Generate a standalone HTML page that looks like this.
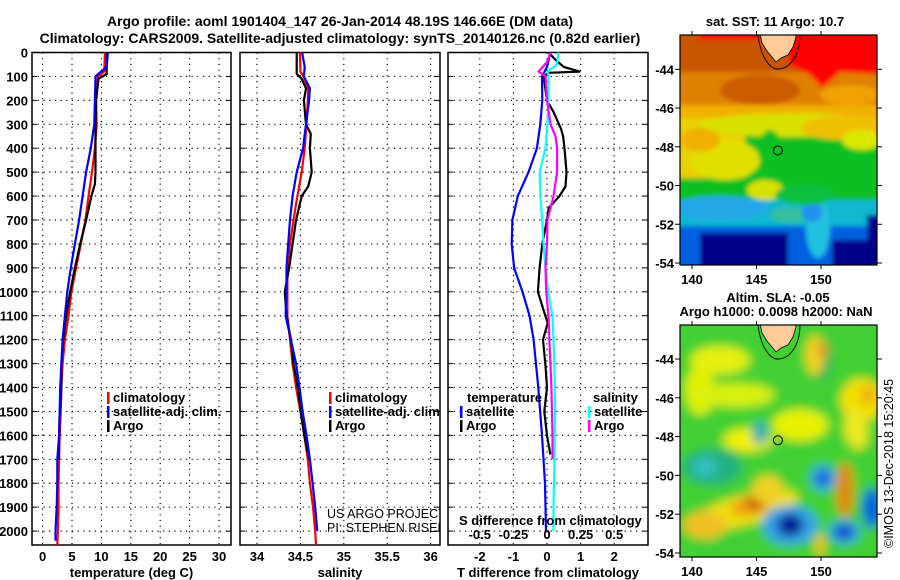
<!DOCTYPE html>
<html><head><meta charset="utf-8">
<style>
body{margin:0;background:#fff;}
svg{display:block;font-family:"Liberation Sans",sans-serif;}
.t{font-weight:bold;font-size:14px;}
.k{font-weight:bold;font-size:13px;}
</style></head>
<body>
<svg id="fig" width="900" height="580" viewBox="0 0 900 580" xmlns="http://www.w3.org/2000/svg">
<defs>
<filter id="bl" x="-10%" y="-10%" width="120%" height="120%"><feGaussianBlur stdDeviation="2.5"/></filter>
<filter id="bl2" x="-20%" y="-20%" width="140%" height="140%"><feGaussianBlur stdDeviation="5"/></filter>
<clipPath id="c1"><rect x="680" y="35" width="197" height="230"/></clipPath>
<clipPath id="c2"><rect x="680" y="325" width="197" height="232"/></clipPath>
<clipPath id="cp2"><rect x="240" y="52" width="200" height="493"/></clipPath>
</defs>
<text class="t" x="340" y="26" text-anchor="middle">Argo profile: aoml 1901404_147 26-Jan-2014 48.19S 146.66E (DM data)</text>
<text class="t" x="340" y="43" text-anchor="middle">Climatology: CARS2009. Satellite-adjusted climatology: synTS_20140126.nc (0.82d earlier)</text>
<g id="panels"></g>
<g id="maps"></g>
</svg>
<script>
const NS='http://www.w3.org/2000/svg';
const svg=document.getElementById('fig');
const panels=document.getElementById('panels');
const maps=document.getElementById('maps');
function mk(tag,attrs,parent){const e=document.createElementNS(NS,tag);for(const k in attrs)e.setAttribute(k,attrs[k]);(parent||svg).appendChild(e);return e;}

// ---------- data ----------
const depthTicks=[0,100,200,300,400,500,600,700,800,900,1000,1100,1200,1300,1400,1500,1600,1700,1800,1900,2000];
const tempTicks=[0,5,10,15,20,25,30];
const salTicks=[34,34.5,35,35.5,36];
const salTickLabels=['34','34.5','35','35.5','36'];
const tdiffTicks=[-2,-1,0,1,2];
const sdiffTicks=[-0.5,-0.25,0,0.25,0.5];
const sdiffTickLabels=['-0.5','-0.25','0','0.25','0.5'];

const tempClimDepth=[0,80,100,200,300,400,500,600,700,800,900,1000,1100,1200,1300,1400,1500,1600,1700,1800,1900,2000,2058];
const tempClim=[10.6,10.5,9.4,9.1,9.2,8.9,8.4,7.8,7.3,6.5,5.7,4.9,4.4,3.8,3.4,3.2,3.1,2.9,2.8,2.7,2.7,2.6,2.5];
const tempSatDepth=[0,60,100,200,300,400,500,600,700,800,900,1000,1100,1200,1300,1400,1500,1600,1700,1800,1900,2000,2040];
const tempSat=[11.1,10.9,9.0,8.9,8.8,8.2,7.4,6.8,6.2,5.5,4.8,4.2,3.8,3.4,3.2,3.0,2.9,2.8,2.5,2.5,2.4,2.2,2.2];
const tempArgoDepth=[0,90,110,200,300,400,500,550,600,700,800,900,1000,1100,1200,1300,1400,1500,1600,1700];
const tempArgo=[10.9,10.9,9.5,9.1,9.0,9.0,9.0,8.9,8.3,7.4,6.4,5.5,4.7,4.0,3.5,3.2,3.2,2.9,2.8,2.7];

const salClimDepth=[0,80,100,150,200,300,400,500,600,700,800,900,1000,1100,1200,1300,1400,1500,1600,1700,1800,1900,2000,2058];
const salClim=[34.495,34.5,34.535,34.59,34.585,34.57,34.55,34.515,34.465,34.42,34.38,34.35,34.35,34.35,34.38,34.41,34.45,34.5,34.545,34.585,34.61,34.645,34.67,34.68];
const salSatDepth=[0,60,100,150,200,300,400,500,600,700,800,900,1000,1100,1200,1300,1400,1500,1600,1700,1800,1900,2000];
const salSat=[34.52,34.55,34.54,34.61,34.6,34.565,34.53,34.457,34.41,34.38,34.36,34.34,34.34,34.33,34.39,34.45,34.49,34.525,34.57,34.61,34.64,34.67,34.695];
const salArgoDepth=[0,90,110,150,200,300,340,400,500,560,600,700,800,900,1000,1100,1200,1300,1400,1500,1600,1700];
const salArgo=[34.457,34.457,34.515,34.565,34.54,34.565,34.62,34.61,34.63,34.59,34.515,34.45,34.41,34.37,34.32,34.34,34.39,34.42,34.47,34.505,34.545,34.6];

const tdSatDepth=[0,60,100,200,300,400,500,600,700,800,900,1000,1100,1200,1400,1600,1800,2000];
const tdSat=[0.1,0.0,-0.15,-0.14,-0.2,-0.3,-0.55,-0.87,-1.03,-1.05,-0.98,-0.73,-0.52,-0.4,-0.26,-0.15,-0.06,-0.03];
const tdArgoDepth=[0,30,60,80,85,100,200,250,320,350,400,500,560,600,650,700,800,900,1000,1100,1130,1200,1300,1400,1500,1600,1680];
const tdArgo=[0.05,0.25,0.5,0.97,0.05,-0.1,0,0.2,0.42,0.48,0.52,0.58,0.55,0.37,0.05,0,-0.14,-0.22,-0.27,-0.05,0.02,-0.12,-0.05,0,-0.08,0,0.1];
const sdSatDepth=[0,50,80,100,200,300,400,500,600,700,800,900,1000,1100,1300,1500,1700,1900,2000];
const sdSat=[0.085,0.075,0.004,0.011,0.011,0.004,-0.011,-0.055,-0.048,-0.036,-0.026,-0.011,0.009,0.041,0.055,0.06,0.055,0.048,0.048];
const sdArgoDepth=[0,40,80,100,200,300,350,400,500,600,700,800,900,1000,1100,1200,1400,1600,1700];
const sdArgo=[0.026,0,-0.063,-0.011,0,0.026,0.063,0.075,0.075,0.048,0.004,0,-0.011,-0.006,0.011,0.018,0.033,0.041,0.041];

const latTicks=[-44,-46,-48,-50,-52,-54];
const lonTicks=[140,145,150];
const argoLon=146.66, argoLat=-48.19;

// ---------- axes ----------
const TOP=52.5, BOT=545, DPX=0.2393;
const yD=d=>TOP+d*DPX;
const xT=v=>42.6+v*5.88;
const xS=v=>257+(v-34)*86.8;
const xTD=v=>547+v*33.6;
const xSD=v=>547+v*134.4;

function panel(x0,x1,name,xticks,xlab,xfun,xlabels,showY){
  const g=mk('g',{},panels);
  depthTicks.forEach(d=>{const y=yD(d);
    const l=mk('line',{x1:x0,x2:x1,y1:y,y2:y,stroke:'#000','stroke-width':1.2,'stroke-dasharray':'1.2 4.5'},g);
    
    mk('line',{x1:x0,x2:x0+5,y1:y,y2:y,stroke:'#000'},g);mk('line',{x1:x1-5,x2:x1,y1:y,y2:y,stroke:'#000'},g);
    if(showY){const t=mk('text',{x:x0-4,y:y+5,'text-anchor':'end',class:'k'},g);t.textContent=d;
      }
  });
  xticks.forEach((v,i)=>{const x=xfun(v);
    const l=mk('line',{x1:x,x2:x,y1:TOP,y2:BOT,stroke:'#000','stroke-width':1.2,'stroke-dasharray':'1.2 4.5'},g);
    
    const t=mk('text',{x:x,y:561,'text-anchor':'middle',class:'k'},g);t.textContent=xlabels?xlabels[i]:v;
    
  });
  mk('rect',{x:x0,y:TOP,width:x1-x0,height:BOT-TOP,fill:'none',stroke:'#000','stroke-width':1.5},g);
  const t=mk('text',{x:(x0+x1)/2,y:577,'text-anchor':'middle',class:'k'},g);t.textContent=xlab;
  
  return g;
}
function series(g,depths,vals,fx,color,name,w){
  let d='';depths.forEach((dd,i)=>{d+=(i?'L':'M')+fx(vals[i]).toFixed(1)+','+yD(dd).toFixed(1);});
  const p=mk('path',{d:d,fill:'none',stroke:color,'stroke-width':w||2.2,'stroke-linejoin':'round'},g);
  
}
function legend(g,x,y,color,label,name){
  mk('rect',{x:x,y:y-10,width:2.5,height:12,fill:color},g);
  const t=mk('text',{x:x+6,y:y,class:'k'},g);t.textContent=label;
  
}

const g1=panel(32,231,'temperature-panel',tempTicks,'temperature (deg C)',xT,null,true);
series(g1,tempClimDepth,tempClim,xT,'#ff0000','temp-climatology-line');
series(g1,tempArgoDepth,tempArgo,xT,'#000000','temp-argo-line');
series(g1,tempSatDepth,tempSat,xT,'#0000ff','temp-satellite-line');
legend(g1,107,402,'#ff0000','climatology','legend-climatology');
legend(g1,107,416,'#0000ff','satellite-adj. clim.','legend-satellite');
legend(g1,107,430,'#000000','Argo','legend-argo');

const g2=panel(240,440,'salinity-panel',salTicks,'salinity',xS,salTickLabels,false);
const g2c=mk('g',{'clip-path':'url(#cp2)'},g2);
series(g2c,salClimDepth,salClim,xS,'#ff0000','sal-climatology-line');
series(g2c,salArgoDepth,salArgo,xS,'#000000','sal-argo-line');
series(g2c,salSatDepth,salSat,xS,'#0000ff','sal-satellite-line');
legend(g2c,329,402,'#ff0000','climatology','legend-climatology');
legend(g2c,329,416,'#0000ff','satellite-adj. clim.','legend-satellite');
legend(g2c,329,430,'#000000','Argo','legend-argo');
['US ARGO PROJECT','PI: STEPHEN RISER'].forEach((s,i)=>{const t=mk('text',{x:327,y:518+i*14,'font-size':'12.5px'},g2c);t.textContent=s;
  });

const g3=panel(448,648,'difference-panel',tdiffTicks,'T difference from climatology',xTD,null,false);
series(g3,tdSatDepth,tdSat,xTD,'#0000ff','tdiff-satellite-line');
series(g3,tdArgoDepth,tdArgo,xTD,'#000000','tdiff-argo-line');
series(g3,sdSatDepth,sdSat,xSD,'#00ffff','sdiff-satellite-line');
series(g3,sdArgoDepth,sdArgo,xSD,'#ff00ff','sdiff-argo-line');
{const t=mk('text',{x:467,y:402,class:'k'},g3);t.textContent='temperature';}
{const t=mk('text',{x:593,y:402,class:'k'},g3);t.textContent='salinity';}
legend(g3,460,416,'#0000ff','satellite','legend-t-satellite');
legend(g3,460,430,'#000000','Argo','legend-t-argo');
legend(g3,588,416,'#00ffff','satellite','legend-s-satellite');
legend(g3,588,430,'#ff00ff','Argo','legend-s-argo');
{const t=mk('text',{x:459,y:525,class:'k'},g3);t.textContent='S difference from climatology';}
sdiffTicks.forEach((v,i)=>{const t=mk('text',{x:xSD(v),y:539,'text-anchor':'middle',class:'k'},g3);t.textContent=sdiffTickLabels[i];
  });

// ---------- maps ----------
function mapFrame(top,bot,latA,latB,name,clip,drawFn,titleLines){
  const g=mk('g',{},maps);
  const lonX=l=>692+(l-140)*12.9;
  const latY=l=>latA+(l-(-44))*(latB-latA)/(-10);
  const inner=mk('g',{'clip-path':'url(#'+clip+')'},g);
  drawFn(inner,lonX,latY);
  const tx=lonX(146.2), ty=top;
  mk('path',{d:`M${tx-14},${ty} C${tx-12},${ty+18} ${tx-4},${ty+34} ${tx+6},${ty+34} C${tx+18},${ty+34} ${tx+28},${ty+20} ${tx+28},${ty}`,fill:'none',stroke:'#000','stroke-width':0.9},inner);
  mk('path',{d:`M${tx-12},${ty-2} L${tx-10},${ty+8} L${tx-5},${ty+16} L${tx},${ty+22} L${tx+4},${ty+27} L${tx+9},${ty+23} L${tx+16},${ty+20} L${tx+21},${ty+12} L${tx+24},${ty+2} L${tx+24},${ty-2}Z`,fill:'#ffcc99',stroke:'#000','stroke-width':0.8},inner);
  const c=mk('circle',{cx:lonX(argoLon),cy:latY(argoLat),r:4.5,fill:'none',stroke:'#000','stroke-width':1},g);
  
  mk('rect',{x:680,y:top,width:197,height:bot-top,fill:'none',stroke:'#000','stroke-width':1.2},g);
  latTicks.forEach(l=>{const y=latY(l);mk('line',{x1:680,x2:675,y1:y,y2:y,stroke:'#000'},g);mk('line',{x1:877,x2:882,y1:y,y2:y,stroke:'#000'},g);
    const t=mk('text',{x:674,y:y+5,'text-anchor':'end',class:'k'},g);t.textContent=l;});
  lonTicks.forEach(l=>{const x=lonX(l);mk('line',{x1:x,x2:x,y1:top,y2:top-4,stroke:'#000'},g);mk('line',{x1:x,x2:x,y1:bot,y2:bot+4,stroke:'#000'},g);
    const t=mk('text',{x:x,y:bot+19,'text-anchor':'middle',class:'k'},g);t.textContent=l;});
  titleLines.forEach((s,i)=>{const t=mk('text',{x:s[1],y:s[2],'text-anchor':'middle',class:'k'},g);t.textContent=s[0];});
}
mapFrame(35,265,69.3,263,'sst-map','c1',(g,X,Y)=>{
  const b=mk('g',{filter:'url(#bl)'},g);
  const R=(x,y,w,h,f)=>mk('rect',{x,y,width:w,height:h,fill:f},b);
  const E=(cx,cy,rx,ry,f)=>mk('ellipse',{cx,cy,rx,ry,fill:f},b);
  R(670,25,220,260,'#10c020');
  R(670,25,220,55,'#c85400');
  R(670,72,220,38,'#e08000');
  E(760,90,40,15,'#cc5c00');E(850,95,30,10,'#f0a000');
  R(670,105,220,20,'#f0b000');
  R(670,118,75,60,'#e8d000');E(790,125,90,12,'#d8e000');E(845,128,45,12,'#f0c000');
  E(725,160,35,20,'#e0e000');E(862,140,20,10,'#d8e800');E(700,140,20,12,'#f0b000');
  E(770,150,12,20,'#10c020');E(765,190,18,10,'#d8e000');
  R(700,30,80,10,'#ff0000');
  mk('path',{d:'M780,30 L890,30 L890,75 L840,72 L822,88 L810,75 L790,65 Z',fill:'#ff0000'},b);
  R(670,200,220,70,'#10b8d0');E(720,208,50,12,'#20a8e8');E(790,215,20,8,'#30c0a0');
  R(670,226,220,45,'#0060e0');
  R(700,233,88,40,'#000088');R(832,240,60,30,'#000088');R(867,215,25,30,'#000090');
  E(818,228,12,30,'#20c0e0');E(812,212,10,10,'#2090f0');
  E(805,195,30,10,'#10c040');
},[['sat. SST: 11 Argo: 10.7',775,26]]);
mapFrame(325,557,359,553,'sla-map','c2',(g,X,Y)=>{
  const b=mk('g',{filter:'url(#bl2)'},g);
  const R=(x,y,w,h,f)=>mk('rect',{x,y,width:w,height:h,fill:f},b);
  const E=(cx,cy,rx,ry,f,r)=>mk('ellipse',{cx,cy,rx,ry,fill:f,transform:`rotate(${r||0} ${cx} ${cy})`},b);
  R(670,315,220,250,'#40d030');
  E(720,360,30,14,'#e8f010');E(700,390,15,25,'#e0f000');E(862,400,22,22,'#f0e000');E(868,395,8,10,'#f0b010');
  E(748,440,25,12,'#f0f000');E(800,425,28,16,'#e8f000');E(735,395,40,12,'#d8f010');
  E(712,467,30,18,'#20b080');E(705,467,12,10,'#30c0c0');E(760,433,8,12,'#30b0b0');E(822,360,10,20,'#20b060');
  E(745,510,55,15,'#f0e010',-15);E(752,505,22,10,'#f0a010',-15);E(757,503,10,7,'#c05000');E(705,525,22,14,'#f0c020');
  E(768,490,16,15,'#f0d020');E(845,490,9,28,'#e08a10');E(856,430,12,20,'#e8e820',-10);
  E(790,525,28,20,'#30a0e8');E(790,525,13,11,'#001890');
  E(823,478,13,13,'#30a0e8');E(823,478,6,6,'#0040d0');
  E(844,532,16,12,'#30a0e8');E(844,532,8,7,'#0030c0');
  E(872,508,10,20,'#0060e0');E(820,545,5,12,'#f0c020');E(815,355,10,20,'#f0d020');E(823,350,5,8,'#e09020');
},[['Altim. SLA: -0.05',778,302],['Argo h1000: 0.0098 h2000: NaN',776,316]]);
{const t=mk('text',{x:0,y:0,'font-size':'12.5px',transform:'translate(893,548) rotate(-90)'},maps);t.textContent='©IMOS 13-Dec-2018 15:20:45';
 }
</script>
</body></html>
